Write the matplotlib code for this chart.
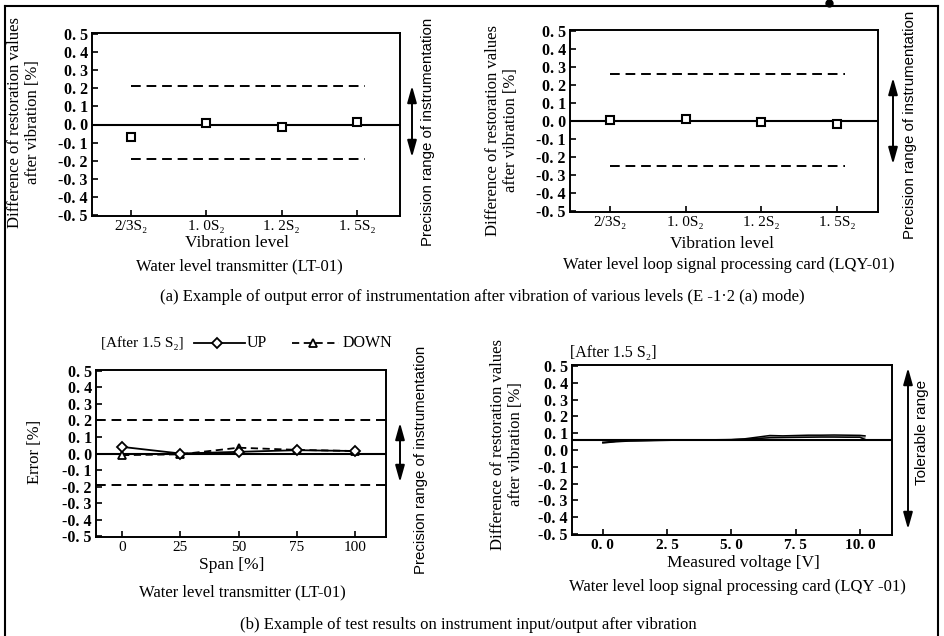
import matplotlib
matplotlib.use('Agg')
import matplotlib.pyplot as plt
from matplotlib.lines import Line2D
from matplotlib.patches import FancyArrowPatch

W, H = 945, 636
SERIF = ['Liberation Serif', 'DejaVu Serif']
SANS = ['Liberation Sans', 'DejaVu Sans']

# ---------------- data ----------------
vib_levels = ['2/3S₂', '1. 0S₂', '1. 2S₂', '1. 5S₂']
lt01_vib_diff = [-0.07, 0.006, -0.015, 0.015]
lt01_limits = [0.21, -0.19]
lqy01_vib_diff = [0.005, 0.012, -0.007, -0.014]
lqy01_limits = [0.26, -0.25]

span_pct = [0, 25, 50, 75, 100]
span_labels = ['0', '25', '50', '75', '100']
lt01_up = [0.04, 0.0, 0.01, 0.02, 0.015]
lt01_down = [-0.01, -0.005, 0.035, 0.022, 0.015]
lt01_span_limits = [0.205, -0.19]

volt = [0.0, 0.5, 1.0, 2.0, 3.0, 4.0, 5.0, 5.5, 6.0, 6.5, 7.0, 7.5, 8.0, 8.5, 9.0, 9.5, 10.0, 10.2]
lqy_up = [0.046, 0.052, 0.056, 0.058, 0.060, 0.060, 0.062, 0.066, 0.076, 0.086, 0.084, 0.086, 0.088, 0.088, 0.089, 0.088, 0.087, 0.084]
lqy_down = [0.042, 0.049, 0.053, 0.056, 0.059, 0.060, 0.061, 0.064, 0.068, 0.073, 0.074, 0.075, 0.076, 0.077, 0.077, 0.076, 0.076, 0.062]
lqy_baseline = 0.06
volt_ticks = [0.0, 2.5, 5.0, 7.5, 10.0]
volt_labels = ['0. 0', '2. 5', '5. 0', '7. 5', '10. 0']

y_ticks = [-0.5, -0.4, -0.3, -0.2, -0.1, 0.0, 0.1, 0.2, 0.3, 0.4, 0.5]
y_labels = ['-0. 5', '-0. 4', '-0. 3', '-0. 2', '-0. 1', '0. 0', '0. 1', '0. 2', '0. 3', '0. 4', '0. 5']

# ---------------- figure ----------------
fig = plt.figure(figsize=(W / 100, H / 100), dpi=100)
fig.patch.set_facecolor('white')


def fx(px):
    return px / W


def fy(py):
    return 1 - py / H


def ax_box(l, t, r, b):
    return [fx(l), fy(b), (r - l) / W, (b - t) / H]


def style_axes(ax, xticks, xlabels, xbold=False):
    for s in ax.spines.values():
        s.set_linewidth(1.4)
    ax.set_yticks(y_ticks)
    ax.set_yticklabels(y_labels, family=SERIF, fontsize=11.5, fontweight='bold')
    ax.set_xticks(xticks)
    ax.set_xticklabels(xlabels, family=SERIF, fontsize=11,
                       fontweight='bold' if xbold else 'normal')
    ax.tick_params(axis='both', direction='in', length=4, width=1.2, pad=3,
                   top=False, right=False)
    ax.set_ylim(-0.505, 0.505)


def text(px, py, s, **kw):
    kw.setdefault('family', SERIF)
    kw.setdefault('ha', 'center')
    kw.setdefault('va', 'center')
    fig.text(fx(px), fy(py), s, **kw)


def arrow(px, py0, py1):
    a = FancyArrowPatch((fx(px), fy(py0)), (fx(px), fy(py1)),
                        transform=fig.transFigure,
                        arrowstyle='<|-|>,head_length=1.0,head_width=0.28',
                        mutation_scale=10, lw=1.4, color='black')
    fig.add_artist(a)


dash = (0, (5, 3))

# ---- panel 1 ----
ax1 = fig.add_axes(ax_box(92, 33, 400, 216))
xpos = list(range(len(vib_levels)))
ax1.axhline(0, color='black', lw=1.5)
for lim in lt01_limits:
    ax1.hlines(lim, xpos[0], xpos[-1] + 0.1, colors='black', linestyles=dash, lw=1.4)
ax1.plot(xpos, lt01_vib_diff, linestyle='none', marker='s', markersize=6,
         markerfacecolor='white', markeredgecolor='black', markeredgewidth=1.5)
ax1.set_xlim(-0.52, 3.57)
style_axes(ax1, xpos, vib_levels)

# ---- panel 2 ----
ax2 = fig.add_axes(ax_box(570, 30, 878, 212))
ax2.axhline(0, color='black', lw=1.5)
for lim in lqy01_limits:
    ax2.hlines(lim, xpos[0], xpos[-1] + 0.1, colors='black', linestyles=dash, lw=1.4)
ax2.plot(xpos, lqy01_vib_diff, linestyle='none', marker='s', markersize=6,
         markerfacecolor='white', markeredgecolor='black', markeredgewidth=1.5)
ax2.set_xlim(-0.53, 3.54)
style_axes(ax2, xpos, vib_levels)

# ---- panel 3 ----
ax3 = fig.add_axes(ax_box(96, 370, 386, 537))
ax3.axhline(0, color='black', lw=1.5)
for lim in lt01_span_limits:
    ax3.axhline(lim, color='black', linestyle=dash, lw=1.4)
ax3.plot(span_pct, lt01_down, linestyle=(0, (4, 2.5)), color='black', lw=1.3,
         marker='^', markersize=5.5, markerfacecolor='white', markeredgecolor='black',
         markeredgewidth=1.3)
ax3.plot(span_pct, lt01_up, linestyle='-', color='black', lw=1.3,
         marker='D', markersize=5, markerfacecolor='white', markeredgecolor='black',
         markeredgewidth=1.3)
ax3.set_xlim(-11.2, 113.3)
style_axes(ax3, span_pct, span_labels)

# ---- panel 4 ----
ax4 = fig.add_axes(ax_box(572, 365, 892, 535))
ax4.axhline(lqy_baseline, color='black', lw=1.5)
ax4.fill_between(volt, lqy_down, lqy_up, color='#9a9a9a', lw=0)
ax4.plot(volt, lqy_up, color='black', lw=1.1)
ax4.plot(volt, lqy_down, color='black', lw=1.1)
ax4.set_xlim(-1.2, 11.25)
style_axes(ax4, volt_ticks, volt_labels, xbold=True)

# ---------------- labels ----------------
ylab = 'Difference of restoration values\nafter vibration [%]'
text(24, 122, ylab, rotation=90, fontsize=12, linespacing=1.1)
text(502, 130, ylab, rotation=90, fontsize=12, linespacing=1.1)
text(35, 452, 'Error [%]', rotation=90, fontsize=12)
text(507, 444, ylab, rotation=90, fontsize=12, linespacing=1.1)

text(237, 243, 'Vibration level', fontsize=12.5)
text(239, 266, 'Water level transmitter (LT-01)', fontsize=12)
text(722, 244, 'Vibration level', fontsize=12.5)
text(729, 265, 'Water level loop signal processing card (LQY-01)', fontsize=12)
text(232, 565, 'Span [%]', fontsize=12.5)
text(242, 592, 'Water level transmitter (LT-01)', fontsize=12)
text(743, 563, 'Measured voltage [V]', fontsize=12.5)
text(737, 587, 'Water level loop signal processing card (LQY -01)', fontsize=12)

text(482, 297, '(a) Example of output error of instrumentation after vibration of various levels (E -1·2 (a) mode)',
     fontsize=12)
text(468, 625, '(b) Example of test results on instrument input/output after vibration',
     fontsize=12)

# right-side precision / tolerance annotations
arrow(412, 83, 160)
text(428, 132, 'Precision range of instrumentation', rotation=90, fontsize=10.8, family=SANS)
arrow(893, 75, 167)
text(910, 125, 'Precision range of instrumentation', rotation=90, fontsize=10.8, family=SANS)
arrow(400, 420, 485)
text(421, 460, 'Precision range of instrumentation', rotation=90, fontsize=10.8, family=SANS)
arrow(908, 365, 532)
text(922, 432, 'Tolerable range', rotation=90, fontsize=11, family=SANS)

# legend-like header of panel 3
text(101, 343, '[After 1.5 S₂]', ha='left', fontsize=11)
fig.add_artist(Line2D([fx(194), fx(245)], [fy(343), fy(343)], color='black', lw=1.3))
fig.add_artist(Line2D([fx(217)], [fy(343)], marker='D', markersize=5, markerfacecolor='white',
                      markeredgecolor='black', markeredgewidth=1.3, linestyle='none'))
text(247, 343, 'UP', ha='left', fontsize=11.5)
fig.add_artist(Line2D([fx(292), fx(339)], [fy(343), fy(343)], color='black', lw=1.3,
                      linestyle=(0, (4, 2.5))))
fig.add_artist(Line2D([fx(313)], [fy(343)], marker='^', markersize=5.5, markerfacecolor='white',
                      markeredgecolor='black', markeredgewidth=1.3, linestyle='none'))
text(343, 343, 'DOWN', ha='left', fontsize=11.5)

text(570, 353, '[After 1.5 S₂]', ha='left', fontsize=11.5)

# outer frame of the scanned figure
fig.add_artist(Line2D([fx(5), fx(5)], [fy(6), fy(640)], color='black', lw=1.5))
fig.add_artist(Line2D([fx(5), fx(938)], [fy(6), fy(6)], color='black', lw=1.5))
fig.add_artist(Line2D([fx(938), fx(938)], [fy(6), fy(640)], color='black', lw=1.5))
fig.add_artist(Line2D([fx(829)], [fy(3)], marker='o', markersize=5, color='black', linestyle='none'))

fig.savefig('out.png', dpi=100, facecolor='white')
